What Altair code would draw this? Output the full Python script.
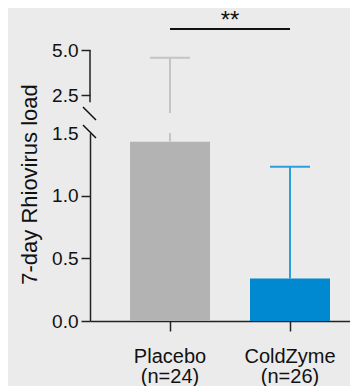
import altair as alt
import pandas as pd
import numpy as np

# ---- data ----
groups = ["Placebo", "ColdZyme"]
n_sizes = [24, 26]
means = [1.43, 0.34]
upper_err = [4.57, 1.23]
bar_colors = ["#b3b3b3", "#0088d1"]
whisker_colors = ["#c4c4c4", "#2ba0dc"]
lower_domain = [0.0, 1.5]
upper_domain = [1.5, 5.0]
upper_axis_span = [2.1, 5.0]
lower_ticks = [0.0, 0.5, 1.0, 1.5]
upper_ticks = [2.5, 5.0]
sig_label = "**"
y_title = "7-day Rhiovirus load"

df = pd.DataFrame({"group": groups, "mean": means, "upper": upper_err,
                   "bar_col": bar_colors, "wh_col": whisker_colors})
df["low_top"] = np.minimum(df["upper"], lower_domain[1])
df["up_bottom"] = np.maximum(df["mean"], upper_domain[0])

FONT = "Liberation Sans"

label_expr = " : ".join(
    f"datum.value == '{g}' ? ['{g}', '(n={n})']" for g, n in zip(groups, n_sizes)
) + " : datum.label"

xscale = alt.Scale(domain=groups, paddingInner=1 / 3, paddingOuter=0.25, align=2 / 3)
bar_color = alt.Color("bar_col:N", scale=None, legend=None)
wh_color = alt.Color("wh_col:N", scale=None, legend=None)

W = 260

# ---------- lower panel ----------
ylow = alt.Scale(domain=lower_domain, nice=False, zero=False)
base_low = alt.Chart(df)
x_low = alt.X(
    "group:N", scale=xscale, sort=groups, title=None,
    axis=alt.Axis(labelExpr=label_expr, labelAngle=0, labelFontSize=20, tickSize=10,
                  labelPadding=15, labelLineHeight=20, labelFont=FONT, labelColor="#111"),
)
bars = base_low.mark_bar(opacity=1).encode(
    x=x_low,
    y=alt.Y("mean:Q", scale=ylow,
            axis=alt.Axis(values=lower_ticks, format=".1f", title=y_title, titleY=51,
                          titlePadding=10, titleFontSize=22, titleFont=FONT,
                          titleFontWeight="normal", titleColor="#111",
                          tickOpacity=alt.expr("datum.value == 1.5 ? 0 : 1"))),
    color=bar_color,
)
wh_low = base_low.mark_rule(strokeWidth=2, opacity=1).encode(
    x=alt.X("group:N", scale=xscale, sort=groups),
    y=alt.Y("mean:Q", scale=ylow),
    y2="low_top:Q",
    color=wh_color,
)
cap_low = base_low.transform_filter(f"datum.upper <= {lower_domain[1]}").mark_tick(
    size=40, thickness=2, opacity=1
).encode(
    x=alt.X("group:N", scale=xscale, sort=groups),
    y=alt.Y("upper:Q", scale=ylow),
    color=wh_color,
)
one = alt.Data(values=[{"k": 1}])
slash_low = alt.Chart(one).mark_rule(color="#111", strokeWidth=1.5).encode(
    x=alt.value(-7), x2=alt.value(6), y=alt.value(-8), y2=alt.value(5)
)
lower = alt.layer(bars, wh_low, cap_low, slash_low).properties(width=W, height=188)

# ---------- upper panel ----------
yup = alt.Scale(domain=upper_domain, nice=False, zero=False)
base_up = alt.Chart(df).transform_filter(f"datum.upper > {upper_domain[0]}")
wh_up = base_up.mark_rule(strokeWidth=2, opacity=1).encode(
    x=alt.X("group:N", scale=xscale, sort=groups, axis=None),
    y=alt.Y("up_bottom:Q", scale=yup,
            axis=alt.Axis(values=upper_ticks, format=".1f", title=None, domain=False)),
    y2="upper:Q",
    color=wh_color,
)
cap_up = base_up.mark_tick(size=40, thickness=2, opacity=1).encode(
    x=alt.X("group:N", scale=xscale, sort=groups, axis=None),
    y=alt.Y("upper:Q", scale=yup),
    color=wh_color,
)
axis_line_up = alt.Chart(one).mark_rule(color="#222", strokeWidth=1.5).encode(
    x=alt.value(0), y=alt.datum(upper_axis_span[1]), y2=alt.datum(upper_axis_span[0])
)
slash_up = alt.Chart(one).mark_rule(color="#111", strokeWidth=1.5).encode(
    x=alt.value(-7), x2=alt.value(6), y=alt.value(57), y2=alt.value(70)
)
bracket = alt.Chart(one).mark_rule(color="#111", strokeWidth=2).encode(
    x=alt.datum(groups[0], scale=xscale), x2=alt.datum(groups[1]), y=alt.value(-21)
)
stars = alt.Chart(one).mark_text(
    text=sig_label, fontSize=24, font=FONT, color="#111", baseline="top", align="center"
).encode(x=alt.value(W * 0.5 + 10), y=alt.value(-41))
upper = alt.layer(wh_up, cap_up, axis_line_up, slash_up, bracket, stars).properties(width=W, height=63)

chart = (
    alt.vconcat(upper, lower, spacing=20, bounds="flush")
    .resolve_scale(x="shared")
    .configure(background="#ebebeb", padding={"left": 10, "top": 1, "right": 0, "bottom": 0})
    .configure_view(stroke=None)
    .configure_axis(
        grid=False, domainColor="#222", domainWidth=1.5, tickColor="#222", tickWidth=1.5,
        labelFontSize=19, labelFont=FONT, labelColor="#111", tickSize=9, labelPadding=3,
    )
)

chart.save("out.html", embed_options={"renderer": "svg", "actions": False})
